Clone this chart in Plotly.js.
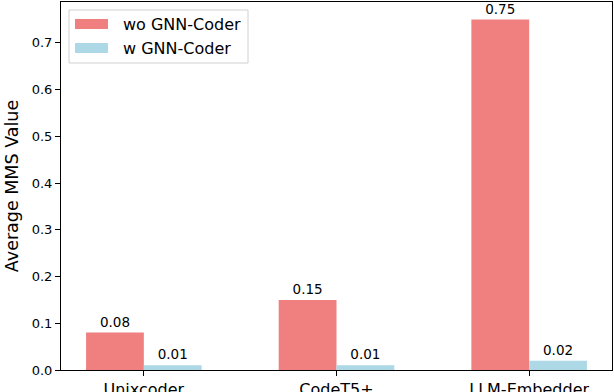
<!DOCTYPE html>
<html>
<head>
<meta charset="utf-8">
<script src="https://cdn.plot.ly/plotly-3.0.1.min.js"></script>
<style>html,body{margin:0;padding:0;background:#fff;}#chart{width:614px;height:392px;}</style>
</head>
<body>
<div id="chart"></div>
<script>
const categories = ["Unixcoder", "CodeT5+", "LLM-Embedder"];
const seriesNames = ["wo GNN-Coder", "w GNN-Coder"];
const woValues = [0.08, 0.15, 0.75];
const wValues = [0.01, 0.01, 0.02];
const yTicks = [0.0, 0.1, 0.2, 0.3, 0.4, 0.5, 0.6, 0.7];

const W = 614, H = 392;
const M = {l: 61, r: 2, t: 2, b: 22};
const PW = W - M.l - M.r, PH = H - M.t - M.b;
const px = x => (x - M.l) / PW;
const py = y => (H - M.b - y) / PH;

const FONT = "DejaVu Sans, Arial, sans-serif";
const RED = "#F08080", BLUE = "#ADD8E6";
const xs = categories.map((c, i) => i);

const traces = [
  {type: "bar", x: xs, y: woValues, name: seriesNames[0], marker: {color: RED},
   texttemplate: "%{y:.2f}", textposition: "outside", cliponaxis: false,
   textfont: {family: FONT, size: 13.5, color: "#000"}, showlegend: false, hoverinfo: "skip"},
  {type: "bar", x: xs, y: wValues, name: seriesNames[1], marker: {color: BLUE},
   texttemplate: "%{y:.2f}", textposition: "outside", cliponaxis: false,
   textfont: {family: FONT, size: 13.5, color: "#000"}, showlegend: false, hoverinfo: "skip"}
];

const shapes = [
  {type: "rect", xref: "paper", yref: "paper", x0: px(69), x1: px(248), y0: py(63), y1: py(10),
   line: {color: "#d0d0d0", width: 1}, fillcolor: "rgba(255,255,255,0.8)", layer: "above"},
  {type: "rect", xref: "paper", yref: "paper", x0: px(75), x1: px(108), y0: py(29), y1: py(19),
   line: {width: 0}, fillcolor: RED, layer: "above"},
  {type: "rect", xref: "paper", yref: "paper", x0: px(75), x1: px(108), y0: py(53), y1: py(43),
   line: {width: 0}, fillcolor: BLUE, layer: "above"}
];
const annotations = [
  {xref: "paper", yref: "paper", x: px(121), y: py(24), xanchor: "left", yanchor: "middle",
   text: seriesNames[0], showarrow: false, font: {family: FONT, size: 16, color: "#000"}},
  {xref: "paper", yref: "paper", x: px(121), y: py(48), xanchor: "left", yanchor: "middle",
   text: seriesNames[1], showarrow: false, font: {family: FONT, size: 16, color: "#000"}}
];

const layout = {
  width: W, height: H,
  margin: M,
  paper_bgcolor: "#fff", plot_bgcolor: "#fff",
  barmode: "group", bargap: 0.4, bargroupgap: 0,
  showlegend: false,
  font: {family: FONT, color: "#000"},
  xaxis: {
    range: [-0.43, 2.43], tickmode: "array", tickvals: xs, ticktext: categories,
    showgrid: false, zeroline: false, showline: true, linecolor: "#000", linewidth: 1, mirror: true,
    ticks: "outside", ticklen: 5, tickcolor: "#000", tickwidth: 1,
    tickfont: {family: FONT, size: 16, color: "#000"}
  },
  yaxis: {
    range: [0, 0.7875], tickmode: "array", tickvals: yTicks, tickformat: ".1f",
    showgrid: false, zeroline: false, showline: true, linecolor: "#000", linewidth: 1, mirror: true,
    ticks: "outside", ticklen: 5, tickcolor: "#000", tickwidth: 1,
    tickfont: {family: FONT, size: 13, color: "#000"},
    title: {text: "Average MMS Value", font: {family: FONT, size: 17.5, color: "#000"}, standoff: 8}
  },
  shapes: shapes,
  annotations: annotations
};

Plotly.newPlot("chart", traces, layout, {displayModeBar: false, staticPlot: true});
</script>
</body>
</html>
